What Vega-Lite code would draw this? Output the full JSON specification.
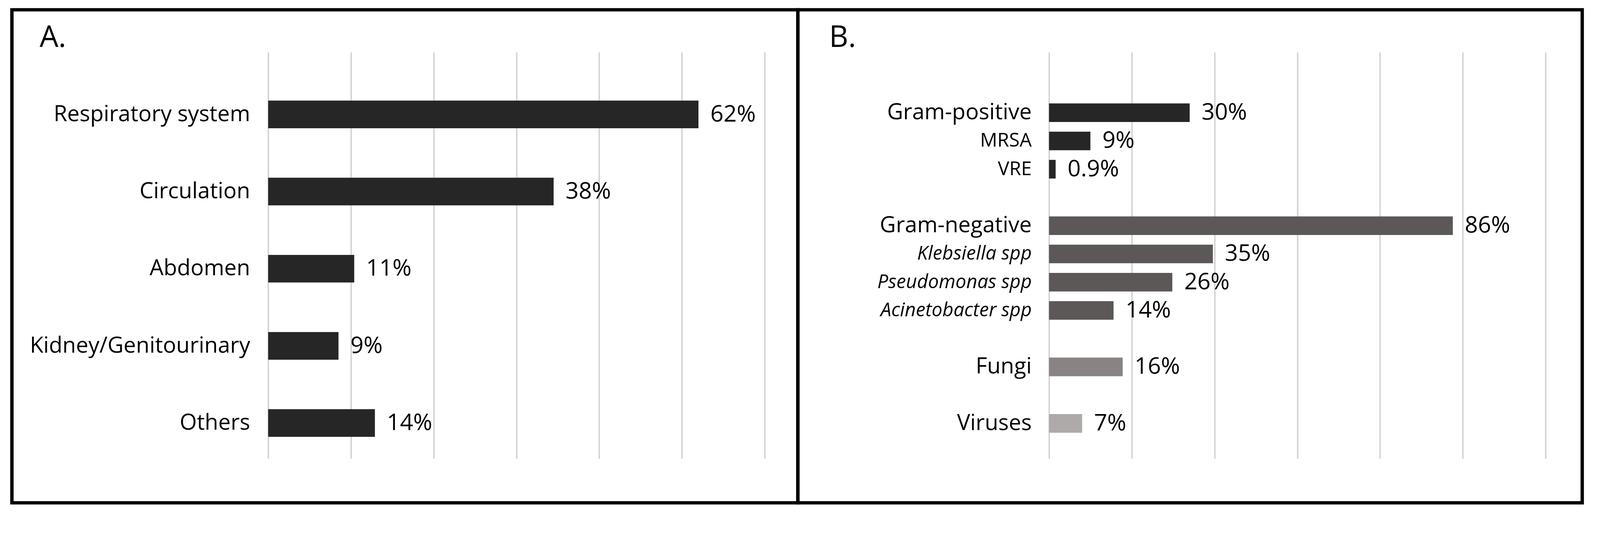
{
  "$schema": "https://vega.github.io/schema/vega-lite/v6.json",
  "padding": {"left": 25.5, "top": 20, "right": 0, "bottom": 0},
  "background": "white",
  "config": {
    "view": {"stroke": "#000000", "strokeWidth": 8.6},
    "font": "Open Sans",
    "axis": {"labelFont": "Open Sans", "labelColor": "#000000"},
    "title": {"font": "Open Sans"}
  },
  "spacing": 0,
  "bounds": "flush",
  "datasets": {
    "sites": [
      {"site": "Respiratory system", "value": 52.0, "label": "62%"},
      {"site": "Circulation", "value": 34.5, "label": "38%"},
      {"site": "Abdomen", "value": 10.4, "label": "11%"},
      {"site": "Kidney/Genitourinary", "value": 8.5, "label": "9%"},
      {"site": "Others", "value": 12.9, "label": "14%"}
    ],
    "pathogens": [
      {"organism": "Gram-positive", "group": "Gram-positive", "value": 17.0, "label": "30%"},
      {"organism": "MRSA", "group": "Gram-positive", "value": 5.0, "label": "9%"},
      {"organism": "VRE", "group": "Gram-positive", "value": 0.8, "label": "0.9%"},
      {"organism": "Gram-negative", "group": "Gram-negative", "value": 48.8, "label": "86%"},
      {"organism": "Klebsiella spp", "group": "Gram-negative", "value": 19.8, "label": "35%"},
      {"organism": "Pseudomonas spp", "group": "Gram-negative", "value": 14.9, "label": "26%"},
      {"organism": "Acinetobacter spp", "group": "Gram-negative", "value": 7.8, "label": "14%"},
      {"organism": "Fungi", "group": "Fungi", "value": 8.9, "label": "16%"},
      {"organism": "Viruses", "group": "Viruses", "value": 4.0, "label": "7%"}
    ]
  },
  "hconcat": [
    {
      "width": 2012,
      "height": 1261,
      "data": {"name": "sites"},
      "title": {"text": "A.", "anchor": "start", "frame": "group", "fontSize": 76, "fontWeight": "normal", "color": "#000000", "baseline": "alphabetic", "offset": -171, "dx": 71},
      "encoding": {
        "y": {
          "field": "site", "type": "nominal", "sort": null,
          "scale": {"paddingInner": 0.642, "paddingOuter": 0, "range": [232.3, 1092.2]},
          "axis": {"title": null, "orient": "left", "offset": -656, "domain": false, "ticks": false, "tickSize": 0, "labelPadding": 46.5, "labelFontSize": 56.5, "labelLimit": 1000}
        },
        "x": {
          "field": "value", "type": "quantitative",
          "scale": {"domain": [0, 60], "range": [656, 1927], "nice": false, "zero": true},
          "axis": {"title": null, "orient": "top", "offset": -108.5, "values": [0, 10, 20, 30, 40, 50, 60], "labels": false, "domain": false, "grid": false, "ticks": true, "tickSize": -1039, "tickColor": "#d4d4d4", "tickWidth": 3.8}
        }
      },
      "layer": [
        {"mark": {"type": "bar", "color": "#262626"}},
        {"mark": {"type": "text", "align": "left", "baseline": "middle", "dx": 30.5, "fontSize": 59, "color": "#000000"}, "encoding": {"text": {"field": "label"}}}
      ]
    },
    {
      "width": 2008,
      "height": 1261,
      "data": {"name": "pathogens"},
      "title": {"text": "B.", "anchor": "start", "frame": "group", "fontSize": 76, "fontWeight": "normal", "color": "#000000", "baseline": "alphabetic", "offset": -171, "dx": 80},
      "encoding": {
        "y": {
          "field": "organism", "type": "nominal",
          "scale": {
            "domain": ["Gram-positive", "MRSA", "VRE", "gap1", "Gram-negative", "Klebsiella spp", "Pseudomonas spp", "Acinetobacter spp", "gap2", "Fungi", "gap3", "Viruses"],
            "paddingInner": 0.34, "paddingOuter": 0, "range": [239.4, 1081.8]
          },
          "axis": {
            "title": null, "orient": "left", "offset": -643, "domain": false, "ticks": false, "tickSize": 0, "labelPadding": 44.8, "labelLimit": 1000,
            "labelExpr": "indexof(datum.value, 'gap') === 0 ? '' : datum.value",
            "labelFontSize": {"condition": {"test": "indexof(['Gram-positive','Gram-negative','Fungi','Viruses'], datum.value) >= 0", "value": 56.5}, "value": 49}, 
            "labelFontStyle": {"condition": {"test": "indexof(['Klebsiella spp','Pseudomonas spp','Acinetobacter spp'], datum.value) >= 0", "value": "italic"}, "value": "normal"}
          }
        },
        "x": {
          "field": "value", "type": "quantitative",
          "scale": {"domain": [0, 60], "range": [643, 1914], "nice": false, "zero": true},
          "axis": {"title": null, "orient": "top", "offset": -108.5, "values": [0, 10, 20, 30, 40, 50, 60], "labels": false, "domain": false, "grid": false, "ticks": true, "tickSize": -1039, "tickColor": "#d4d4d4", "tickWidth": 3.8}
        }
      },
      "layer": [
        {
          "mark": {"type": "bar"},
          "encoding": {
            "color": {"field": "group", "type": "nominal", "legend": null,
              "scale": {"domain": ["Gram-positive", "Gram-negative", "Fungi", "Viruses"], "range": ["#262626", "#5c5858", "#898383", "#aeaaaa"]}}
          }
        },
        {"mark": {"type": "text", "align": "left", "baseline": "middle", "dx": 30.5, "fontSize": 59, "color": "#000000"}, "encoding": {"text": {"field": "label"}}}
      ]
    }
  ]
}
